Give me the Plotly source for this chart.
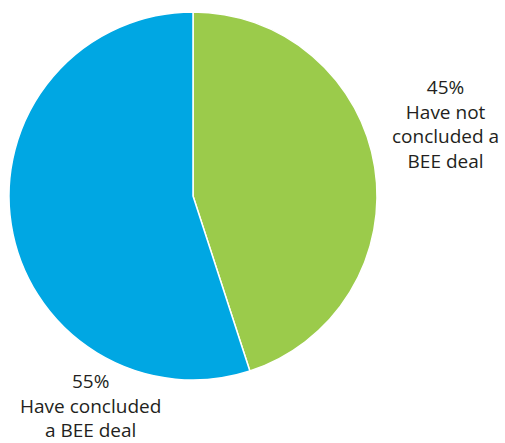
import plotly.graph_objects as go

# Share of companies by BEE deal status
categories = ["Have not concluded a BEE deal", "Have concluded a BEE deal"]
label_lines = [["Have not", "concluded a", "BEE deal"], ["Have concluded", "a BEE deal"]]
values = [45, 55]
colors = ["#9BCB4B", "#00A7E3"]

W, H = 505, 443

fig = go.Figure(go.Pie(
    labels=categories,
    values=values,
    sort=False,
    direction="clockwise",
    rotation=0,
    textinfo="none",
    hoverinfo="label+percent",
    marker=dict(colors=colors, line=dict(color="white", width=1.5)),
    domain=dict(x=[9 / W, 377 / W], y=[1 - 380 / H, 1 - 12 / H]),
    showlegend=False,
))

total = sum(values)
label_pos = [(445, 124), (90, 405)]  # text block centres in pixels
for v, lines, (px, py) in zip(values, label_lines, label_pos):
    txt = "<br>".join([f"{round(100 * v / total)}%"] + lines)
    fig.add_annotation(
        x=px / W, y=1 - py / H, xref="paper", yref="paper",
        text=txt, showarrow=False, align="center",
        xanchor="center", yanchor="middle",
        font=dict(family="Open Sans, sans-serif", size=19, color="#231F20"),
    )

fig.update_layout(
    width=W, height=H,
    margin=dict(l=0, r=0, t=0, b=0),
    paper_bgcolor="white", plot_bgcolor="white",
)

fig.write_html("out.html")
